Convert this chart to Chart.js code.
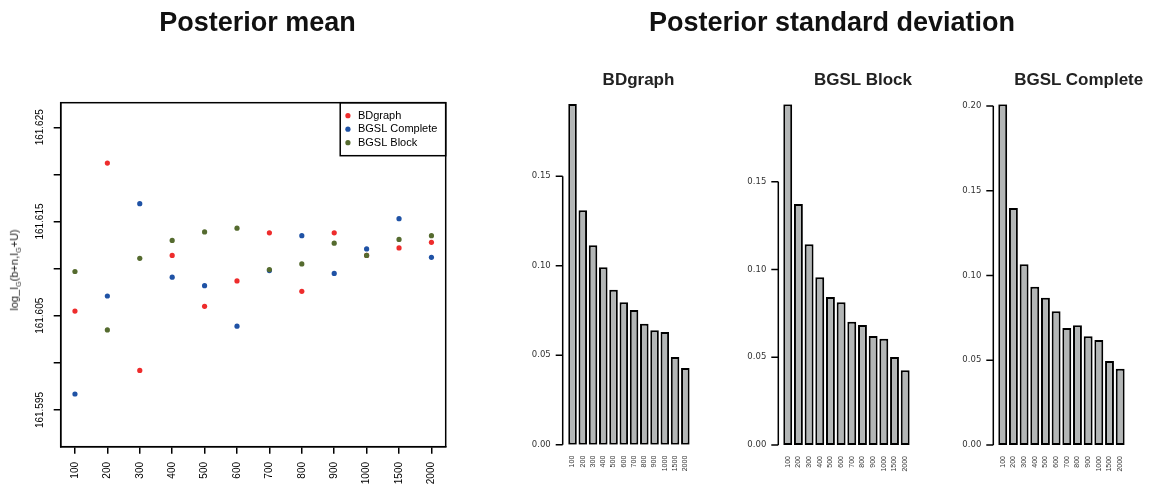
<!DOCTYPE html>
<html lang="en">
<head>
    <meta charset="UTF-8">
    <title>Posterior mean and standard deviation</title>
    <script src="https://cdn.jsdelivr.net/npm/chart.js"></script>
    <style>
        body {
            margin: 0;
            background: #fff;
            font-family: 'Liberation Sans', Arial, sans-serif;
            color: #111;
        }

        #page {
            position: relative;
            width: 1151px;
            height: 484px;
            overflow: hidden;
        }

        canvas {
            position: absolute;
            top: 0;
        }

        .title {
            position: absolute;
            transform: translateX(-50%);
            white-space: nowrap;
            font-weight: bold;
        }

        .big {
            font-size: 27px;
            line-height: 27px;
            top: 8.6px;
        }

        .small {
            font-size: 17px;
            line-height: 17px;
            top: 70.9px;
            color: #222;
        }

        #ylab {
            position: absolute;
            left: 15px;
            top: 270px;
            transform: translate(-50%, -50%) rotate(-90deg);
            font-size: 11px;
            color: #222;
            white-space: nowrap;
        }

        #ylab sub {
            font-size: 7px;
        }
    </style>
</head>
<body>
<div id="page">
    <canvas id="meanChart" width="460" height="484" style="left:0px"></canvas>
    <canvas id="sdBD" width="200" height="484" style="left:505px"></canvas>
    <canvas id="sdBlock" width="205" height="484" style="left:720px"></canvas>
    <canvas id="sdComplete" width="205" height="484" style="left:935px"></canvas>

    <div class="title big" style="left:257.5px">Posterior mean</div>
    <div class="title big" style="left:832px">Posterior standard deviation</div>
    <div class="title small" style="left:638.5px">BDgraph</div>
    <div class="title small" style="left:863px">BGSL Block</div>
    <div class="title small" style="left:1078.7px">BGSL Complete</div>
    <div id="ylab">log_I<sub>G</sub>(b+n,I<sub>G</sub>+U)</div>
</div>

<script>
    // sample sizes on the x axis
    const sampleSizes = ['100', '200', '300', '400', '500', '600', '700', '800', '900', '1000', '1500', '2000'];

    // posterior mean (left panel)
    const meanBDgraph = [161.6055, 161.6212, 161.5992, 161.6114, 161.6060, 161.6087, 161.6138, 161.6076, 161.6138, 161.6114, 161.6122, 161.6128];
    const meanBGSLComplete = [161.5967, 161.6071, 161.6169, 161.6091, 161.6082, 161.6039, 161.6098, 161.6135, 161.6095, 161.6121, 161.6153, 161.6112];
    const meanBGSLBlock = [161.6097, 161.6035, 161.6111, 161.6130, 161.6139, 161.6143, 161.6099, 161.6105, 161.6127, 161.6114, 161.6131, 161.6135];
    const meanYTicks = [161.595, 161.600, 161.605, 161.610, 161.615, 161.620, 161.625];

    // posterior standard deviation (right panels)
    const sdBDgraph = [0.1903, 0.1309, 0.1114, 0.0991, 0.0866, 0.0796, 0.0753, 0.0676, 0.0639, 0.0630, 0.0490, 0.0428];
    const sdBGSLBlock = [0.1942, 0.1374, 0.1144, 0.0956, 0.0844, 0.0813, 0.0703, 0.0684, 0.0621, 0.0606, 0.0502, 0.0426];
    const sdBGSLComplete = [0.2010, 0.1398, 0.1066, 0.0934, 0.0869, 0.0789, 0.0690, 0.0706, 0.0641, 0.0619, 0.0496, 0.0450];
    const sdYTicks = [0, 0.05, 0.10, 0.15, 0.20];

    Chart.defaults.font.family = "'Liberation Sans', Arial, sans-serif";
    Chart.defaults.animation = false;

    // box round the plot plus the legend in the top right corner (R style)
    const frameBox = {
        id: 'frameBox',
        afterDraw(chart) {
            const ctx = chart.ctx;
            const a = chart.chartArea;
            ctx.save();
            ctx.strokeStyle = '#000';
            ctx.lineWidth = 1.5;
            ctx.strokeRect(a.left, a.top, a.width, a.height);

            ctx.font = "11px 'Liberation Sans', Arial, sans-serif";
            const sets = chart.data.datasets;
            const w = Math.max(...sets.map(d => ctx.measureText(d.label).width)) + 26;
            const h = 53;
            ctx.strokeRect(a.right - w, a.top, w, h);
            ctx.textBaseline = 'middle';
            sets.forEach((d, i) => {
                const y = a.top + 13 + i * 13.5;
                ctx.fillStyle = d.backgroundColor;
                ctx.beginPath();
                ctx.arc(a.right - w + 7.7, y, 2.6, 0, Math.PI * 2);
                ctx.fill();
                ctx.fillStyle = '#000';
                ctx.fillText(d.label, a.right - w + 17.7, y);
            });
            ctx.restore();
        }
    };

    // y axis line that only runs between the first and last tick, set off from the bars
    const rAxis = {
        id: 'rAxis',
        afterDraw(chart, args, opts) {
            const ctx = chart.ctx;
            const a = chart.chartArea;
            const ys = chart.scales.y;
            const vals = ys.ticks.map(t => t.value);
            const x0 = a.left - opts.gap;
            ctx.save();
            ctx.strokeStyle = '#000';
            ctx.lineWidth = 1.5;
            ctx.beginPath();
            ctx.moveTo(x0, ys.getPixelForValue(vals[0]));
            ctx.lineTo(x0, ys.getPixelForValue(vals[vals.length - 1]));
            vals.forEach(v => {
                const y = ys.getPixelForValue(v);
                ctx.moveTo(x0 - 7, y);
                ctx.lineTo(x0, y);
            });
            ctx.stroke();
            ctx.restore();
        }
    };

    function toPoints(values) {
        return values.map((v, i) => ({ x: i, y: v }));
    }

    new Chart(document.getElementById('meanChart'), {
        type: 'scatter',
        data: {
            datasets: [
                { label: 'BDgraph', data: toPoints(meanBDgraph), backgroundColor: '#ee2c2c', order: 3 },
                { label: 'BGSL Complete', data: toPoints(meanBGSLComplete), backgroundColor: '#1f52a5', order: 2 },
                { label: 'BGSL Block', data: toPoints(meanBGSLBlock), backgroundColor: '#556b2f', order: 1 }
            ]
        },
        options: {
            responsive: false,
            layout: { padding: { top: 102.7, right: 14.3, left: 0, bottom: 0 } },
            elements: { point: { radius: 2.6, borderWidth: 0, hoverRadius: 2.6 } },
            plugins: { legend: { display: false }, tooltip: { enabled: false } },
            scales: {
                x: {
                    type: 'linear',
                    min: -0.44,
                    max: 11.44,
                    afterBuildTicks: s => { s.ticks = sampleSizes.map((_, i) => ({ value: i })); },
                    afterFit: s => { s.height = 37.3; },
                    grid: { display: true, drawOnChartArea: false, drawTicks: true, tickLength: 7, color: '#000', lineWidth: 1.5 },
                    border: { display: true, color: '#000', width: 1.5 },
                    ticks: {
                        autoSkip: false,
                        minRotation: 90,
                        maxRotation: 90,
                        padding: 8.3,
                        color: '#000',
                        font: { size: 10 },
                        callback: v => sampleSizes[v] ?? ''
                    }
                },
                y: {
                    min: 161.59111,
                    max: 161.62761,
                    afterBuildTicks: s => { s.ticks = meanYTicks.map(v => ({ value: v })); },
                    afterFit: s => { s.width = 60.7; },
                    grid: { display: true, drawOnChartArea: false, drawTicks: true, tickLength: 7, color: '#000', lineWidth: 1.5 },
                    border: { display: true, color: '#000', width: 1.5 },
                    ticks: {
                        autoSkip: false,
                        minRotation: 90,
                        maxRotation: 90,
                        crossAlign: 'center',
                        padding: -5,
                        color: '#000',
                        font: { size: 10 },
                        callback: v => Math.round(v * 1000) % 10 === 5 ? v.toFixed(3) : ''
                    }
                }
            }
        },
        plugins: [frameBox]
    });

    function makeSdChart(id, values, yWidth, padRight, top, bottomHeight, gap) {
        const maxVal = Math.max(...values);
        return new Chart(document.getElementById(id), {
            type: 'bar',
            data: {
                labels: sampleSizes,
                datasets: [{
                    data: values,
                    backgroundColor: '#b3b6b6',
                    borderColor: '#000',
                    borderWidth: 2,
                    borderSkipped: false,
                    barPercentage: 1 / 1.2,
                    categoryPercentage: 1
                }]
            },
            options: {
                responsive: false,
                layout: { padding: { top: top, right: padRight, left: 0, bottom: 0 } },
                plugins: { legend: { display: false }, tooltip: { enabled: false }, rAxis: { gap: gap } },
                scales: {
                    x: {
                        afterFit: s => { s.height = bottomHeight; },
                        grid: { display: false, drawTicks: false },
                        border: { display: false },
                        ticks: {
                            autoSkip: false,
                            minRotation: 90,
                            maxRotation: 90,
                            padding: 11,
                            color: '#333',
                            font: { size: 7 }
                        }
                    },
                    y: {
                        min: 0,
                        max: maxVal,
                        afterBuildTicks: s => { s.ticks = sdYTicks.filter(v => v <= maxVal + 1e-9).map(v => ({ value: v })); },
                        afterFit: s => { s.width = yWidth; },
                        grid: { display: false, drawTicks: false },
                        border: { display: false },
                        ticks: {
                            autoSkip: false,
                            padding: gap + 12,
                            color: '#333',
                            font: { size: 8.5, family: "'DejaVu Sans', sans-serif" },
                            callback: v => v.toFixed(2)
                        }
                    }
                }
            },
            plugins: [rAxis]
        });
    }

    makeSdChart('sdBD', sdBDgraph, 62.4, 6.8, 104, 39.3, 4.7);
    makeSdChart('sdBlock', sdBGSLBlock, 62.4, 10.1, 104.3, 39, 4.1);
    makeSdChart('sdComplete', sdBGSLComplete, 62.4, 10.1, 104.3, 39, 4.1);
</script>
</body>
</html>
